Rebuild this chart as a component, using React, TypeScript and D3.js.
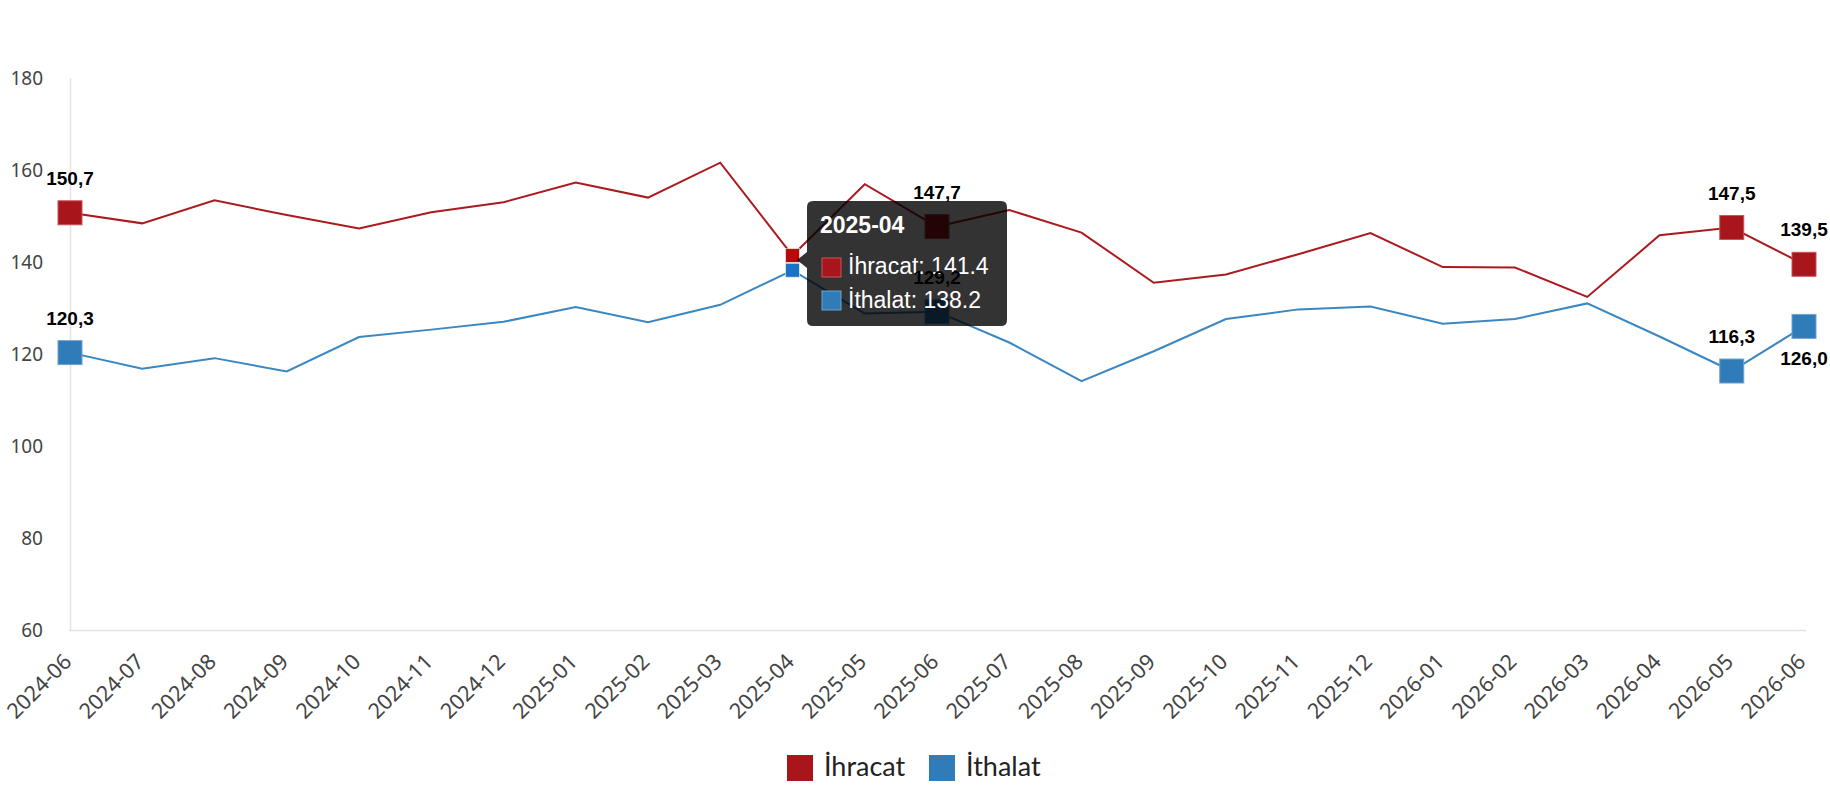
import * as d3 from 'd3';

// Monthly index values
const months = [
  '2024-06', '2024-07', '2024-08', '2024-09', '2024-10', '2024-11', '2024-12',
  '2025-01', '2025-02', '2025-03', '2025-04', '2025-05', '2025-06', '2025-07',
  '2025-08', '2025-09', '2025-10', '2025-11', '2025-12', '2026-01', '2026-02',
  '2026-03', '2026-04', '2026-05', '2026-06',
];
const ihracat = [
  150.7, 148.4, 153.4, 150.2, 147.3, 150.8, 153.0, 157.3, 154.0, 161.6, 141.4, 156.9,
  147.7, 151.3, 146.4, 135.5, 137.3, 141.7, 146.3, 138.9, 138.8, 132.4, 145.8, 147.5, 139.5,
];
const ithalat = [
  120.3, 116.8, 119.1, 116.2, 123.7, 125.3, 127.0, 130.2, 126.9, 130.7, 138.2, 128.8,
  129.2, 122.5, 114.1, 120.6, 127.6, 129.7, 130.3, 126.6, 127.6, 131.0, 123.8, 116.3, 126.0,
];
const yTicks = [60, 80, 100, 120, 140, 160, 180];
// points that carry a big marker + value label
const highlighted = [0, 12, 23, 24];
const hoverIndex = 10;

const W = 1830;
const H = 800;

const series = [
  { name: 'İhracat', values: ihracat, line: '#ab1a1f', fill: '#a8151b', edge: '#c8555a', hover: '#b30a0a', labelBelow: [] as number[] },
  { name: 'İthalat', values: ithalat, line: '#3a87c2', fill: '#307cb8', edge: '#6fa3cf', hover: '#1873c5', labelBelow: [24] },
];

const fmt = (v: number) => v.toFixed(1).replace('.', ',');

export default function App() {
  const x = d3.scalePoint<string>().domain(months).range([70, 1804]);
  const y = d3.scaleLinear().domain([60, 180]).range([630, 78]);

  const line = d3
    .line<number>()
    .x((_, i) => x(months[i]) as number)
    .y((d) => y(d));

  const hx = x(months[hoverIndex]) as number;
  // tooltip box
  const tip = { x: 807, y: 201, w: 200, h: 125 };
  const tipMid = 260;

  return (
    <div style={{ position: 'absolute', left: 0, top: 0 }}>
      <svg width={W} height={H} style={{ display: 'block', background: '#fff' }}>
        {/* axes */}
        <line x1={70.5} x2={70.5} y1={y(180)} y2={y(60)} stroke="#e1e4ea" strokeWidth={1.5} />
        <line x1={69} x2={1806} y1={y(60) + 0.5} y2={y(60) + 0.5} stroke="#dde1e8" strokeWidth={1.5} />

        {yTicks.map((t) => (
          <text
            key={t}
            x={43}
            y={y(t)}
            dy="0.36em"
            textAnchor="end"
            fontFamily="'Noto Sans', sans-serif"
            fontSize={19}
            fill="#444"
          >
            {t}
          </text>
        ))}

        {months.map((m) => (
          <text
            key={m}
            transform={`translate(${(x(m) as number) + 3},${663}) rotate(-45)`}
            textAnchor="end"
            fontFamily="'Noto Sans', sans-serif"
            fontSize={21.5}
            fill="#444"
          >
            {m}
          </text>
        ))}

        {/* lines */}
        {series.map((s) => (
          <path key={s.name} d={line(s.values) || ''} fill="none" stroke={s.line} strokeWidth={2} />
        ))}

        {/* big square markers */}
        {series.map((s) =>
          highlighted.map((i) => (
            <rect
              key={s.name + i}
              x={(x(months[i]) as number) - 12}
              y={y(s.values[i]) - 12}
              width={24}
              height={24}
              fill={s.fill}
              stroke={s.edge}
              strokeWidth={1}
            />
          ))
        )}

        {/* hovered points */}
        {series.map((s) => (
          <rect
            key={'h' + s.name}
            x={hx - 7}
            y={y(s.values[hoverIndex]) - 7}
            width={14}
            height={14}
            fill={s.hover}
            stroke="#ffffff"
            strokeOpacity={0.6}
            strokeWidth={1}
          />
        ))}

        {/* tooltip */}
        <g>
          <path
            d={`M${tip.x + 6},${tip.y} H${tip.x + tip.w - 6} Q${tip.x + tip.w},${tip.y} ${tip.x + tip.w},${tip.y + 6}
               V${tip.y + tip.h - 6} Q${tip.x + tip.w},${tip.y + tip.h} ${tip.x + tip.w - 6},${tip.y + tip.h}
               H${tip.x + 6} Q${tip.x},${tip.y + tip.h} ${tip.x},${tip.y + tip.h - 6}
               V${tipMid + 8} L${tip.x - 10},${tipMid} L${tip.x},${tipMid - 8}
               V${tip.y + 6} Q${tip.x},${tip.y} ${tip.x + 6},${tip.y} Z`}
            fill="rgba(0,0,0,0.8)"
          />
          <text
            x={820}
            y={233}
            fontFamily="'Liberation Sans', Arial, sans-serif"
            fontWeight="bold"
            fontSize={23}
            fill="#fff"
          >
            {months[hoverIndex]}
          </text>
          {series.map((s, k) => (
            <g key={'t' + s.name}>
              <rect
                x={822}
                y={258 + k * 33}
                width={19}
                height={19}
                fill={s.fill}
                stroke={s.edge}
                strokeWidth={1}
              />
              <text
                x={848}
                y={274 + k * 34}
                fontFamily="'Liberation Sans', Arial, sans-serif"
                fontSize={23}
                fill="#fff"
              >
                {`${s.name}: ${s.values[hoverIndex]}`}
              </text>
            </g>
          ))}
        </g>

        {/* value labels */}
        {series.map((s) =>
          highlighted.map((i) => {
            const below = s.labelBelow.includes(i);
            return (
              <text
                key={'l' + s.name + i}
                x={x(months[i]) as number}
                y={y(s.values[i]) + (below ? 39 : -28)}
                textAnchor="middle"
                fontFamily="'Liberation Sans', Arial, sans-serif"
                fontWeight="bold"
                fontSize={19}
                fill="#000"
              >
                {fmt(s.values[i])}
              </text>
            );
          })
        )}

        {/* legend */}
        {series.map((s, k) => (
          <g key={'lg' + s.name} transform={`translate(${787 + k * 142},755)`}>
            <rect width={26} height={26} fill={s.fill} />
            <text x={37} y={21} fontFamily="Lato, sans-serif" fontSize={27} fill="#222">
              {s.name}
            </text>
          </g>
        ))}
      </svg>
    </div>
  );
}
